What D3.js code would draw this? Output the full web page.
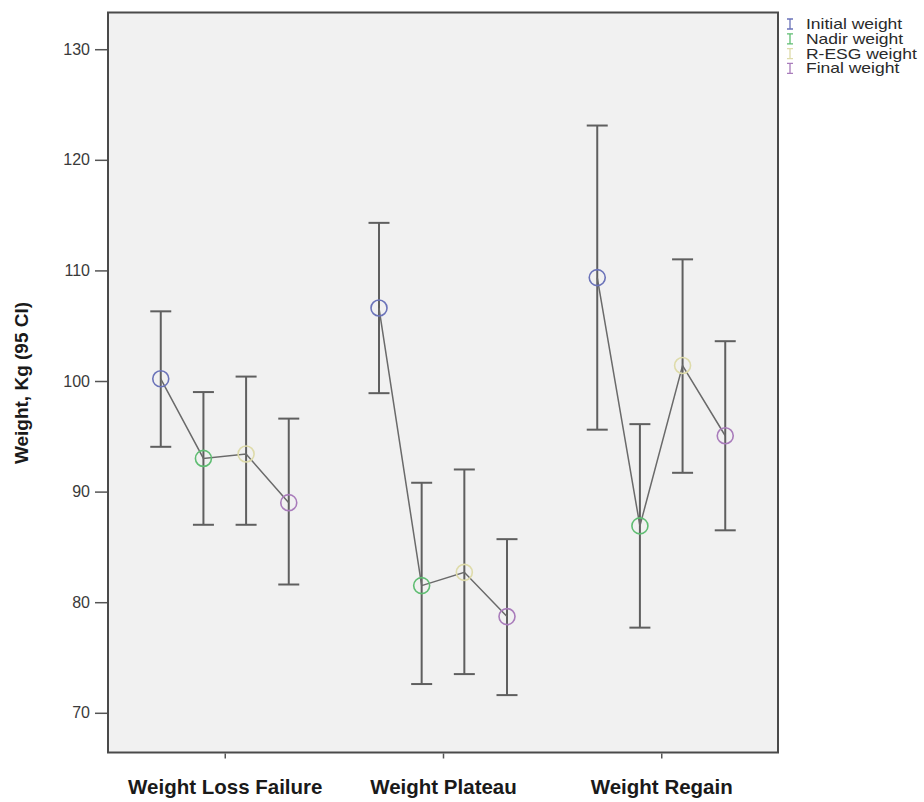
<!DOCTYPE html>
<html lang="en">
<head>
    <meta charset="UTF-8">
    <title>Weight by group</title>
    <script src="https://d3js.org/d3.v7.min.js"></script>
    <style>
        body{
            margin: 0;
            background-color: white;
        }
        text{
            font-family: "Liberation Sans", Arial, sans-serif;
        }
        .axis path{
            display: none;
        }
        .axis line{
            stroke: #555;
            stroke-width: 1.5px;
        }
        .axis text{
            fill: #3a3a3a;
        }
    </style>
</head>
<body>

<svg id="canvas" width="924" height="802"></svg>

<script>

    // categories on the x axis, and the 4 series plotted inside each one
    let categories = ["Weight Loss Failure", "Weight Plateau", "Weight Regain"];
    let seriesNames = ["Initial weight", "Nadir weight", "R-ESG weight", "Final weight"];
    let seriesColors = ["#6b73b9", "#5fbd72", "#dedbaa", "#a97cbb"];

    // mean values, one per category (same order as categories)
    let initialMean = [100.2, 106.6, 109.35];
    let nadirMean = [93.0, 81.5, 86.9];
    let resgMean = [93.4, 82.7, 101.4];
    let finalMean = [89.0, 78.7, 95.05];

    // 95 CI lower / upper ends
    let initialLow = [94.05, 98.9, 95.6];
    let nadirLow = [87.0, 72.6, 77.7];
    let resgLow = [87.0, 73.5, 91.7];
    let finalLow = [81.6, 71.6, 86.5];

    let initialHigh = [106.3, 114.3, 123.1];
    let nadirHigh = [99.0, 90.8, 96.1];
    let resgHigh = [100.4, 92.0, 111.0];
    let finalHigh = [96.6, 85.7, 103.6];

    let yTicks = [70, 80, 90, 100, 110, 120, 130];

    let means = [initialMean, nadirMean, resgMean, finalMean];
    let lows = [initialLow, nadirLow, resgLow, finalLow];
    let highs = [initialHigh, nadirHigh, resgHigh, finalHigh];

    // plot frame
    let frameL = 108, frameR = 778, frameT = 12.5, frameB = 752.5;

    let svg = d3.select('#canvas');

    let yscale = d3.scaleLinear().domain([66.41, 133.32]).range([frameB, frameT]);
    let xscale = d3.scalePoint().domain(categories).range([frameL, frameR]).padding(0.535);
    let inner = d3.scalePoint().domain(seriesNames).range([-64, 64]);

    // background + frame
    svg.append('rect')
        .attr('x', frameL).attr('y', frameT)
        .attr('width', frameR - frameL).attr('height', frameB - frameT)
        .attr('fill', '#f1f1f1')
        .attr('stroke', '#4a4a4a')
        .attr('stroke-width', 2);

    // y axis
    svg.append('g').attr('class', 'axis')
        .attr('transform', `translate(${frameL - 1},0)`)
        .call(d3.axisLeft(yscale).tickValues(yTicks).tickSize(12).tickPadding(5).tickFormat(d3.format('d')))
        .selectAll('text').style('font-size', '16px');

    // x axis
    let xAxis = svg.append('g').attr('class', 'axis')
        .attr('transform', `translate(0,${frameB + 1})`)
        .call(d3.axisBottom(xscale).tickSize(5).tickPadding(21));
    xAxis.selectAll('text')
        .style('font-size', '20.5px')
        .style('font-weight', 'bold')
        .style('fill', '#1a1a1a');

    // y title
    svg.append('text')
        .attr('transform', 'translate(28,383) rotate(-90)')
        .attr('text-anchor', 'middle')
        .style('font-size', '19px')
        .style('font-weight', 'bold')
        .style('fill', '#1a1a1a')
        .text('Weight, Kg (95 CI)');

    // build points list from arrays
    let points = [];
    categories.forEach(function (c, ci) {
        seriesNames.forEach(function (s, si) {
            points.push({
                cat: c, series: s, si: si,
                mean: means[si][ci], low: lows[si][ci], high: highs[si][ci]
            });
        });
    });

    let px = function (d) { return xscale(d.cat) + inner(d.series); };
    let capW = 10.5;

    let plot = svg.append('g');

    // error bars
    let bars = plot.selectAll('.bar').data(points).enter().append('g').attr('class', 'bar');
    bars.append('line')
        .attr('x1', px).attr('x2', px)
        .attr('y1', function (d) { return yscale(d.low); })
        .attr('y2', function (d) { return yscale(d.high); })
        .attr('stroke', '#5f5f5f').attr('stroke-width', 2);
    bars.append('line')
        .attr('x1', function (d) { return px(d) - capW; })
        .attr('x2', function (d) { return px(d) + capW; })
        .attr('y1', function (d) { return yscale(d.high); })
        .attr('y2', function (d) { return yscale(d.high); })
        .attr('stroke', '#5f5f5f').attr('stroke-width', 2);
    bars.append('line')
        .attr('x1', function (d) { return px(d) - capW; })
        .attr('x2', function (d) { return px(d) + capW; })
        .attr('y1', function (d) { return yscale(d.low); })
        .attr('y2', function (d) { return yscale(d.low); })
        .attr('stroke', '#5f5f5f').attr('stroke-width', 2);

    // connecting line per category
    let line_generator = d3.line()
        .x(px)
        .y(function (d) { return yscale(d.mean); });
    plot.selectAll('.meanline')
        .data(d3.groups(points, function (d) { return d.cat; }))
        .enter()
        .append('path')
        .attr('class', 'meanline')
        .attr('d', function (g) { return line_generator(g[1]); })
        .attr('fill', 'none')
        .attr('stroke', '#6a6a6a')
        .attr('stroke-width', 1.5);

    // mean circles
    plot.selectAll('circle').data(points).enter().append('circle')
        .attr('cx', px)
        .attr('cy', function (d) { return yscale(d.mean); })
        .attr('r', 8)
        .attr('fill', 'none')
        .attr('stroke', function (d) { return seriesColors[d.si]; })
        .attr('stroke-width', 1.6);

    // legend
    let legend = svg.append('g').attr('transform', 'translate(790,24)');
    let items = legend.selectAll('g').data(seriesNames).enter().append('g')
        .attr('transform', function (d, i) { return `translate(0,${i * 14.8})`; });
    items.append('path')
        .attr('d', 'M-3,-5H3M0,-5V5M-3,5H3')
        .attr('fill', 'none')
        .attr('stroke', function (d, i) { return seriesColors[i]; })
        .attr('stroke-width', 1.3);
    items.append('text')
        .attr('transform', 'translate(16,5) scale(1.25,1)')
        .style('font-size', '14px')
        .style('fill', '#2a2a2a')
        .text(function (d) { return d; });

</script>
</body>
</html>
